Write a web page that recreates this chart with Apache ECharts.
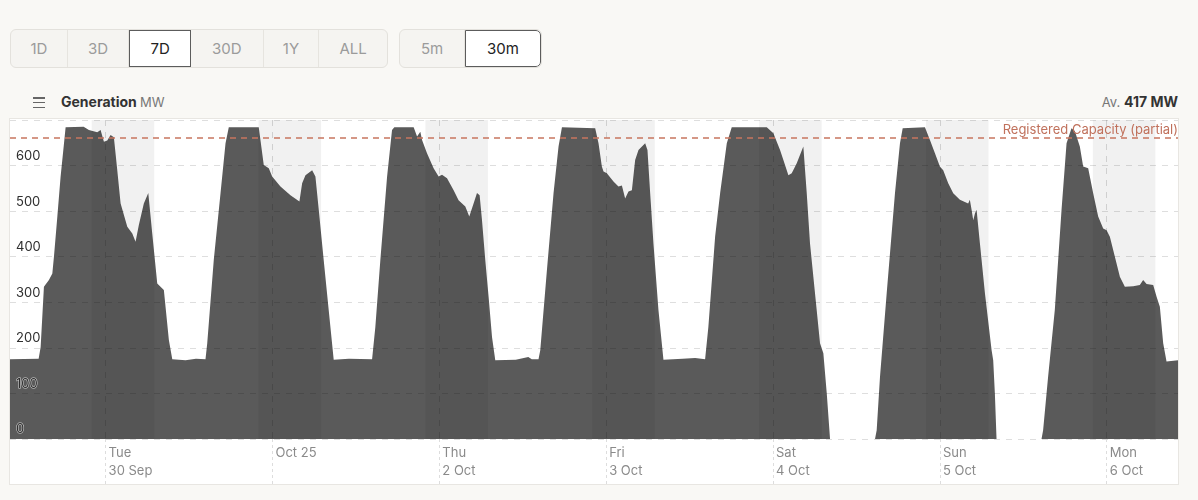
<!DOCTYPE html>
<html>
<head>
<meta charset="utf-8">
<script src="https://cdn.jsdelivr.net/npm/echarts@6/dist/echarts.min.js"></script>
<style>
  html, body { margin:0; padding:0; width:1198px; height:500px; overflow:hidden; background:#f9f8f5; font-family: Inter, "DejaVu Sans", sans-serif; }
  .grp { position:absolute; top:29px; height:39px; display:flex; border:1px solid #e3e1dc; border-radius:6px; background:#f5f4f1; box-sizing:border-box; overflow:hidden; }
  .btn { height:100%; display:flex; align-items:center; justify-content:center; font-size:15px; color:#9b9b9b; border-right:1px solid #e6e4df; box-sizing:border-box; }
  .btn:last-child { border-right:none; }
  .btn.sel { background:#fff; color:#222; border:1.5px solid #5c5c5c; }
  .grp2 .btn.sel { border-radius:0 5px 5px 0; }
  .ham { position:absolute; left:33px; top:97px; width:12px; height:11px; }
  .ham div { height:1.5px; background:#666; margin-bottom:3.3px; }
  .title { position:absolute; left:61px; top:93px; font-size:14px; font-weight:700; color:#333; }
  .title span { font-weight:400; font-size:13px; color:#777; }
  .avg { position:absolute; right:20px; top:93px; font-size:13px; color:#777; }
  .avg b { font-size:14px; color:#333; }
  .panel { position:absolute; left:9px; top:118px; width:1170px; height:367px; background:#fff; border:1px solid #e8e6e2; box-sizing:border-box; }
  #chart { position:absolute; left:0; top:0; width:1198px; height:500px; }
</style>
</head>
<body>
<div class="grp" style="left:10px;width:378px;">
  <div class="btn" style="width:57px">1D</div>
  <div class="btn" style="width:62px">3D</div>
  <div class="btn sel" style="width:62px">7D</div>
  <div class="btn" style="width:73px">30D</div>
  <div class="btn" style="width:56px">1Y</div>
  <div class="btn" style="width:68px">ALL</div>
</div>
<div class="grp grp2" style="left:399px;width:143px;">
  <div class="btn" style="width:66px">5m</div>
  <div class="btn sel" style="width:77px">30m</div>
</div>
<div class="ham"><div></div><div></div><div></div></div>
<div class="title">Generation <span>MW</span></div>
<div class="avg">Av. <b>417 MW</b></div>
<div class="panel"></div>
<div id="chart"></div>
<script>
// hours since Mon 29 Sep 00:00
const timeHours = [
  10.25,14.37,14.66,15.13,15.85,16.34,16.57,17.06,17.53,17.92,18.25,20.84,21.6,22.8,23.28,23.76,24.24,24.72,25.19,25.68,26.16,27.12,27.84,28.31,28.79,29.5,30.14,30.71,31.43,31.9,32.38,33.1,33.59,35.5,37,
  38.37,38.62,39.56,40.53,41.25,41.72,46.03,46.75,47.47,47.96,49.15,50.59,51.88,52.27,52.75,53.71,54.18,54.66,55.37,56.09,56.81,59,
  62.33,62.8,63.52,64.49,65.2,65.53,68.31,68.8,69.27,69.52,70.23,71.18,71.9,72.39,73.11,74.06,74.77,75.74,76.31,76.93,77.42,77.8,78.14,78.61,79.09,79.58,80.05,83,84.8,85.3,
  86.27,86.52,87.48,88.43,89.15,89.64,94.42,94.9,95.38,95.62,96.1,97.05,97.77,98.26,98.73,99.21,99.7,100.17,100.65,101.61,101.94,102.33,102.8,103.52,104.24,107,108.8,
  110.23,110.7,111.67,112.39,113.35,114.06,119.1,120.05,121.01,121.49,122.21,122.69,123.41,124.36,124.6,124.85,125.32,126.28,126.76,127.24,127.73,128.2,
  134.67,134.91,135.39,136.35,137.54,138.26,138.65,141.85,142.57,143.29,144.0,144.48,145.2,145.92,146.88,148.07,148.31,148.56,148.8,149.04,149.28,149.76,150.48,151.44,151.67,151.91,152.15,
  158.62,158.85,159.57,160.53,161.5,162.22,162.93,163.41,164.13,164.61,164.85,165.33,166.05,166.77,167.49,167.98,168.45,169.17,169.89,170.61,171.8,172.76,173.24,173.73,174.68,175.17,175.64,176.12,176.6,178.25
];
const generationMW = [
  175,176,202,334,349,363,400,488,576,634,684,685,678,673,678,652,655,667,662,590,517,466,451,433,470,517,540,451,341,334,327,217,175,173,176,
  175,210,393,539,649,684,684,601,594,576,554,535,521,561,579,590,576,503,393,283,174,176,
  175,246,393,576,678,684,684,664,674,656,627,594,576,580,572,546,524,510,488,517,540,535,480,393,312,224,173,174,180,175,
  175,195,371,539,642,684,682,649,598,587,583,565,554,556,528,543,546,612,634,649,634,539,429,283,174,176,178,
  175,246,444,539,649,684,684,671,634,612,579,583,605,642,640,539,429,283,210,188,100,0,
  0,19,137,320,539,649,682,684,656,627,598,590,561,539,525,517,525,503,480,495,503,429,320,195,173,100,0,
  0,19,137,283,503,649,682,676,642,598,601,594,539,488,462,458,444,400,356,334,335,338,349,340,338,312,290,210,170,173
];
const tickHours = [24, 48, 72, 96, 120, 144, 168];
const tickLabels = ['Tue\n30 Sep', 'Oct 25', 'Thu\n2 Oct', 'Fri\n3 Oct', 'Sat\n4 Oct', 'Sun\n5 Oct', 'Mon\n6 Oct'];
const nightBandStarts = [22, 46, 70, 94, 118, 142, 166];
const nightBandEnds = [31, 55, 79, 103, 127, 151, 175];
const registeredCapacity = 662;
const capacityLabel = 'Registered Capacity (partial)';

const FONT = 'Inter, "DejaVu Sans", sans-serif';
const seriesData = timeHours.map((h, i) => [h, generationMW[i]]);

const chart = echarts.init(document.getElementById('chart'), null, { renderer: 'canvas' });
chart.setOption({
  animation: false,
  backgroundColor: 'transparent',
  textStyle: { fontFamily: FONT },
  grid: { left: 10, right: 20, top: 120, bottom: 61 },
  xAxis: {
    type: 'value', min: 10.25, max: 178.25, z: 4,
    axisLine: { show: false },
    axisTick: { show: true, customValues: tickHours, length: 46, lineStyle: { color: '#dddddd', type: [3, 3] } },
    axisLabel: {
      customValues: tickHours,
      formatter: v => tickLabels[tickHours.indexOf(v)] || '',
      align: 'left', verticalAlign: 'top', padding: [0, 0, 0, 3], margin: 5,
      color: '#8a8a8a', fontSize: 13, lineHeight: 18, fontFamily: FONT
    },
    splitLine: { show: true, lineStyle: { color: 'rgba(0,0,0,0.14)', type: [6, 6] } }
  },
  yAxis: {
    type: 'value', min: 0, max: 700, interval: 100, z: 4,
    axisLine: { show: false }, axisTick: { show: false },
    axisLabel: {
      inside: true, verticalAlign: 'bottom', margin: 6, padding: [0, 0, 3, 0],
      color: '#2e2e2e', fontSize: 13, fontFamily: FONT,
      textBorderColor: 'rgba(255,255,255,0.75)', textBorderWidth: 1,
      formatter: v => (v === 700 ? '' : String(v))
    },
    splitLine: { show: true, lineStyle: { color: 'rgba(0,0,0,0.13)', type: [6, 6] } }
  },
  series: [{
    type: 'line', data: seriesData, symbol: 'none', z: 2,
    lineStyle: { width: 0 },
    areaStyle: { color: '#5a5a5a', opacity: 1 },
    markArea: {
      silent: true, z: 3,
      itemStyle: { color: 'rgba(0,0,0,0.055)' },
      data: nightBandStarts.map((s, i) => [{ xAxis: s }, { xAxis: nightBandEnds[i] }])
    },
    markLine: {
      silent: true, z: 5, symbol: 'none',
      lineStyle: { color: '#c8765f', type: [6, 5], width: 1.5 },
      label: { position: 'insideEndTop', formatter: capacityLabel, color: '#c0715c', fontSize: 13, fontFamily: FONT, distance: [0, 1] },
      data: [{ yAxis: registeredCapacity }]
    }
  }]
});
</script>
</body>
</html>
